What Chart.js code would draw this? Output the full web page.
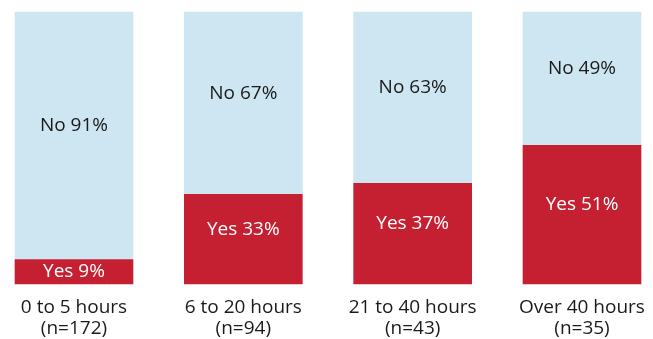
<!DOCTYPE html>
<html>
<head>
<meta charset="utf-8">
<script src="https://cdn.jsdelivr.net/npm/chart.js@4/dist/chart.umd.min.js"></script>
<style>
  html, body { margin: 0; padding: 0; background: #fff; }
  #wrap { width: 653px; height: 339px; }
</style>
</head>
<body>
<div id="wrap"><canvas id="hoursChart" width="653" height="339"></canvas></div>
<script>
// data
const categories = ['0 to 5 hours', '6 to 20 hours', '21 to 40 hours', 'Over 40 hours'];
const sampleSizes = [172, 94, 43, 35];
const yesValues = [9, 33, 37, 51];
const noValues = [91, 67, 63, 49];

const RED = '#c52032';
const BLUE = '#cde6f2';
const FONT = '"Open Sans", sans-serif';

// draws "Yes 33%" / "No 67%" inside each segment
const segmentLabels = {
  id: 'segmentLabels',
  afterDatasetsDraw(chart) {
    const c = chart.ctx;
    c.save();
    c.font = '19px ' + FONT;
    c.textAlign = 'center';
    c.textBaseline = 'middle';
    chart.data.datasets.forEach((ds, di) => {
      const meta = chart.getDatasetMeta(di);
      meta.data.forEach((bar, i) => {
        const p = bar.getProps(['x', 'y', 'base'], true);
        const h = Math.abs(p.base - p.y);
        let ty = (p.y + p.base) / 2;
        if (h > 40) ty -= 10;
        c.fillStyle = ds.labelColor;
        c.fillText(ds.label + ' ' + ds.data[i] + '%', p.x, ty);
      });
    });
    c.restore();
  }
};

const ctx = document.getElementById('hoursChart').getContext('2d');

new Chart(ctx, {
  type: 'bar',
  data: {
    labels: categories.map((c, i) => [c, '(n=' + sampleSizes[i] + ')']),
    datasets: [
      { label: 'Yes', data: yesValues, backgroundColor: RED, labelColor: '#ffffff', barThickness: 118, clip: false },
      { label: 'No', data: noValues, backgroundColor: BLUE, labelColor: '#1a1a1a', barThickness: 118, clip: false }
    ]
  },
  options: {
    responsive: false,
    animation: false,
    layout: { padding: { left: 74, right: 71, top: 12, bottom: 0 } },
    scales: {
      x: {
        stacked: true,
        offset: false,
        grid: { display: false },
        border: { display: false },
        afterFit: s => { s.height = 55; },
        ticks: {
          color: '#1a1a1a',
          padding: 5,
          maxRotation: 0,
          autoSkip: false,
          font: { family: FONT, size: 19, lineHeight: 1.1 }
        }
      },
      y: {
        stacked: true,
        display: false,
        min: 0,
        max: 100
      }
    },
    plugins: {
      legend: { display: false },
      tooltip: { enabled: false }
    }
  },
  plugins: [segmentLabels]
});
</script>
</body>
</html>
